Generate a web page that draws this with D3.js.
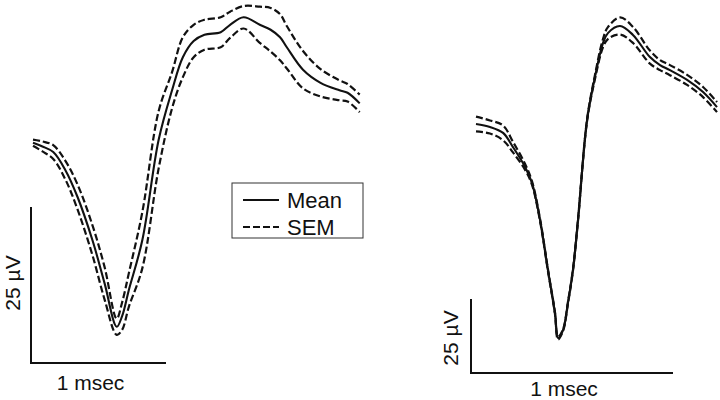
<!DOCTYPE html>
<html><head><meta charset="utf-8">
<script src="https://cdn.jsdelivr.net/npm/d3@7"></script>
<style>body{margin:0;background:#fff}svg{display:block}</style>
</head><body>
<svg id="c" width="720" height="400"></svg>
<script>
// ---- data (time in msec, amplitude in µV relative to start) ----
const leftTime = [0.00,0.07,0.15,0.24,0.33,0.44,0.53,0.62,0.66,0.71,0.81,0.93,1.03,1.11,1.19,1.27,1.39,1.46,1.56,1.68,1.76,1.83,1.88,2.00,2.13,2.27,2.33,2.42];
const leftMean = [0.0,-0.6,-1.5,-4.4,-8.7,-15.6,-22.5,-29.5,-27.8,-23.6,-15.6,0.4,8.4,13.7,16.3,17.3,17.7,18.9,20.1,18.9,18.1,16.9,15.3,11.7,9.6,8.4,8.0,6.3];
const leftSem  = [0.5,0.8,1.1,1.5,2.0,2.4,2.6,1.3,2.2,2.7,4.5,4.6,2.9,3.2,2.6,2.4,2.4,2.1,1.8,2.9,3.5,3.7,3.4,3.0,2.2,1.6,1.4,1.4];

const rightTime = [0.000,0.069,0.134,0.183,0.243,0.277,0.317,0.356,0.391,0.406,0.431,0.455,0.480,0.505,0.550,0.589,0.629,0.653,0.713,0.777,0.861,0.911,0.960,1.045,1.124,1.193];
const rightMean = [0.0,-1.0,-3.0,-7.8,-14.5,-19.9,-32.4,-49.3,-63.9,-72.3,-69.6,-60.5,-49.3,-32.4,1.4,15.9,27.4,30.7,33.1,30.1,22.6,19.9,18.2,14.9,10.8,5.7];
const rightSem  = [2.5,2.2,2.5,1.8,1.0,0.6,0.4,0.3,0.3,0.5,0.3,0.3,0.3,0.3,0.3,0.7,1.4,2.0,2.9,2.7,2.2,1.7,1.7,1.7,1.7,1.7];

const scaleBarTime = 1;      // msec
const scaleBarVolt = 25;     // µV
const timeLabel = "1 msec";
const voltLabel = "25 µV";
const legendLabels = ["Mean", "SEM"];

// ---- drawing ----
const svg = d3.select("#c");
const INK = "#111";
const DASH = "7,3";
const FONT = "Liberation Sans, Arial, sans-serif";

function panel(cfg) {
  const x = d3.scaleLinear().domain([0, 1]).range([cfg.x0, cfg.x0 + cfg.pxPerMs]);
  const y = d3.scaleLinear().domain([0, 25]).range([cfg.y0, cfg.y0 - cfg.pxPer25]);
  const pts = cfg.time.map((t, i) => ({t, m: cfg.mean[i], s: cfg.sem[i]}));
  const curve = d3.curveCatmullRom.alpha(0.5);
  const g = svg.append("g");
  const mk = acc => d3.line().x(d => x(d.t)).y(acc).curve(curve);
  g.append("path").attr("d", mk(d => y(d.m + d.s))(pts))
    .attr("fill", "none").attr("stroke", INK).attr("stroke-width", 2.2).attr("stroke-dasharray", DASH);
  g.append("path").attr("d", mk(d => y(d.m - d.s))(pts))
    .attr("fill", "none").attr("stroke", INK).attr("stroke-width", 2.2).attr("stroke-dasharray", DASH);
  g.append("path").attr("d", mk(d => y(d.m))(pts))
    .attr("fill", "none").attr("stroke", INK).attr("stroke-width", 2.1);

  // scale bars
  const hLen = x(scaleBarTime) - x(0);
  const vLen = y(0) - y(scaleBarVolt);
  const bx = cfg.barX, by = cfg.barY;
  g.append("path")
    .attr("d", `M${bx},${by - vLen}V${by}H${bx + hLen}`)
    .attr("fill", "none").attr("stroke", INK).attr("stroke-width", 2);
  g.append("text").text(timeLabel)
    .attr("x", bx + hLen / 2 - 8).attr("y", cfg.timeLabelY)
    .attr("text-anchor", "middle").attr("font-family", FONT)
    .attr("font-size", 21).attr("fill", INK);
  g.append("text").text(voltLabel)
    .attr("transform", `translate(${cfg.voltLabelX},${by - vLen / 2 + cfg.voltLabelDy}) rotate(-90)`)
    .attr("text-anchor", "middle").attr("font-family", FONT)
    .attr("font-size", 21).attr("fill", INK);
}

panel({time: leftTime, mean: leftMean, sem: leftSem,
  x0: 33, pxPerMs: 135, y0: 142.7, pxPer25: 156,
  barX: 31, barY: 363, timeLabelY: 390, voltLabelX: 20, voltLabelDy: -2});

panel({time: rightTime, mean: rightMean, sem: rightSem,
  x0: 476, pxPerMs: 202, y0: 124, pxPer25: 74,
  barX: 471, barY: 373, timeLabelY: 396, voltLabelX: 458, voltLabelDy: 2});

// legend
const lg = svg.append("g");
lg.append("rect").attr("x", 232).attr("y", 183).attr("width", 131).attr("height", 55)
  .attr("fill", "#fff").attr("stroke", "#333").attr("stroke-width", 1);
legendLabels.forEach((lab, i) => {
  const yy = 200 + i * 27;
  lg.append("line").attr("x1", 243).attr("x2", 279).attr("y1", yy).attr("y2", yy)
    .attr("stroke", INK).attr("stroke-width", 2)
    .attr("stroke-dasharray", i === 1 ? DASH : null);
  lg.append("text").text(lab).attr("x", 287).attr("y", yy + 8)
    .attr("font-family", FONT).attr("font-size", 22).attr("fill", INK);
});
</script>
</body></html>
